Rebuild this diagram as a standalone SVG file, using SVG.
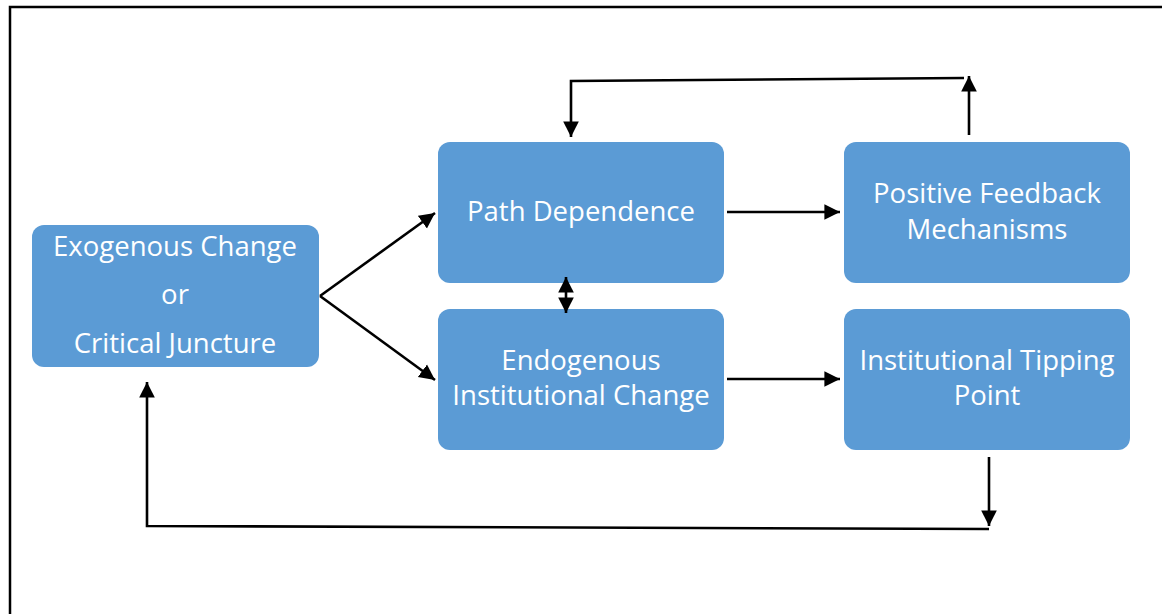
<svg xmlns="http://www.w3.org/2000/svg" width="1162" height="614" viewBox="0 0 1162 614">
  <defs>
    <style>
      .box { fill: #5B9BD5; }
      .label { fill: #ffffff; font-family: "Open Sans", "Liberation Sans", sans-serif; font-size: 27.5px; text-anchor: middle; }
      .wire { fill: none; stroke: #000; stroke-width: 2.6; }
    </style>
    <marker id="head" viewBox="0 0 10 10" refX="10" refY="5" markerWidth="6" markerHeight="6.4" markerUnits="strokeWidth" orient="auto-start-reverse">
      <path d="M0,0 L10,5 L0,10 Z" fill="#000"/>
    </marker>
  </defs>

  <rect width="1162" height="614" fill="#fff"/>
  <!-- frame -->
  <path d="M10,614 L10,7 L1162,7" fill="none" stroke="#000" stroke-width="2.5"/>

  <g id="exogenous">
    <rect class="box" x="32" y="225" width="287" height="142" rx="12"/>
    <text class="label" x="175" y="256">Exogenous Change</text>
    <text class="label" x="175" y="304">or</text>
    <text class="label" x="175" y="353">Critical Juncture</text>
  </g>
  <g id="path-dependence">
    <rect class="box" x="438" y="142" width="286" height="141" rx="12"/>
    <text class="label" x="581" y="221">Path Dependence</text>
  </g>
  <g id="endogenous">
    <rect class="box" x="438" y="309" width="286" height="141" rx="12"/>
    <text class="label" x="581" y="370">Endogenous</text>
    <text class="label" x="581" y="405">Institutional Change</text>
  </g>
  <g id="positive-feedback">
    <rect class="box" x="844" y="142" width="286" height="141" rx="12"/>
    <text class="label" x="987" y="203">Positive Feedback</text>
    <text class="label" x="987" y="239">Mechanisms</text>
  </g>
  <g id="tipping-point">
    <rect class="box" x="844" y="309" width="286" height="141" rx="12"/>
    <text class="label" x="987" y="370">Institutional Tipping</text>
    <text class="label" x="987" y="405">Point</text>
  </g>

  <g id="connectors">
    <path class="wire" d="M320,296 L435,213" marker-end="url(#head)"/>
    <path class="wire" d="M320,296 L435,380" marker-end="url(#head)"/>
    <path class="wire" d="M566,277 L566,313" marker-start="url(#head)" marker-end="url(#head)"/>
    <path class="wire" d="M727,212 L840,212" marker-end="url(#head)"/>
    <path class="wire" d="M727,379 L840,379" marker-end="url(#head)"/>
    <path class="wire" d="M969,135 L969,76" marker-end="url(#head)"/>
    <path class="wire" d="M964,78 L571,81 L571,137" marker-end="url(#head)"/>
    <path class="wire" d="M989,457 L989,526" marker-end="url(#head)"/>
    <path class="wire" d="M989,529 L147,526 L147,382" marker-end="url(#head)"/>
  </g>
</svg>
